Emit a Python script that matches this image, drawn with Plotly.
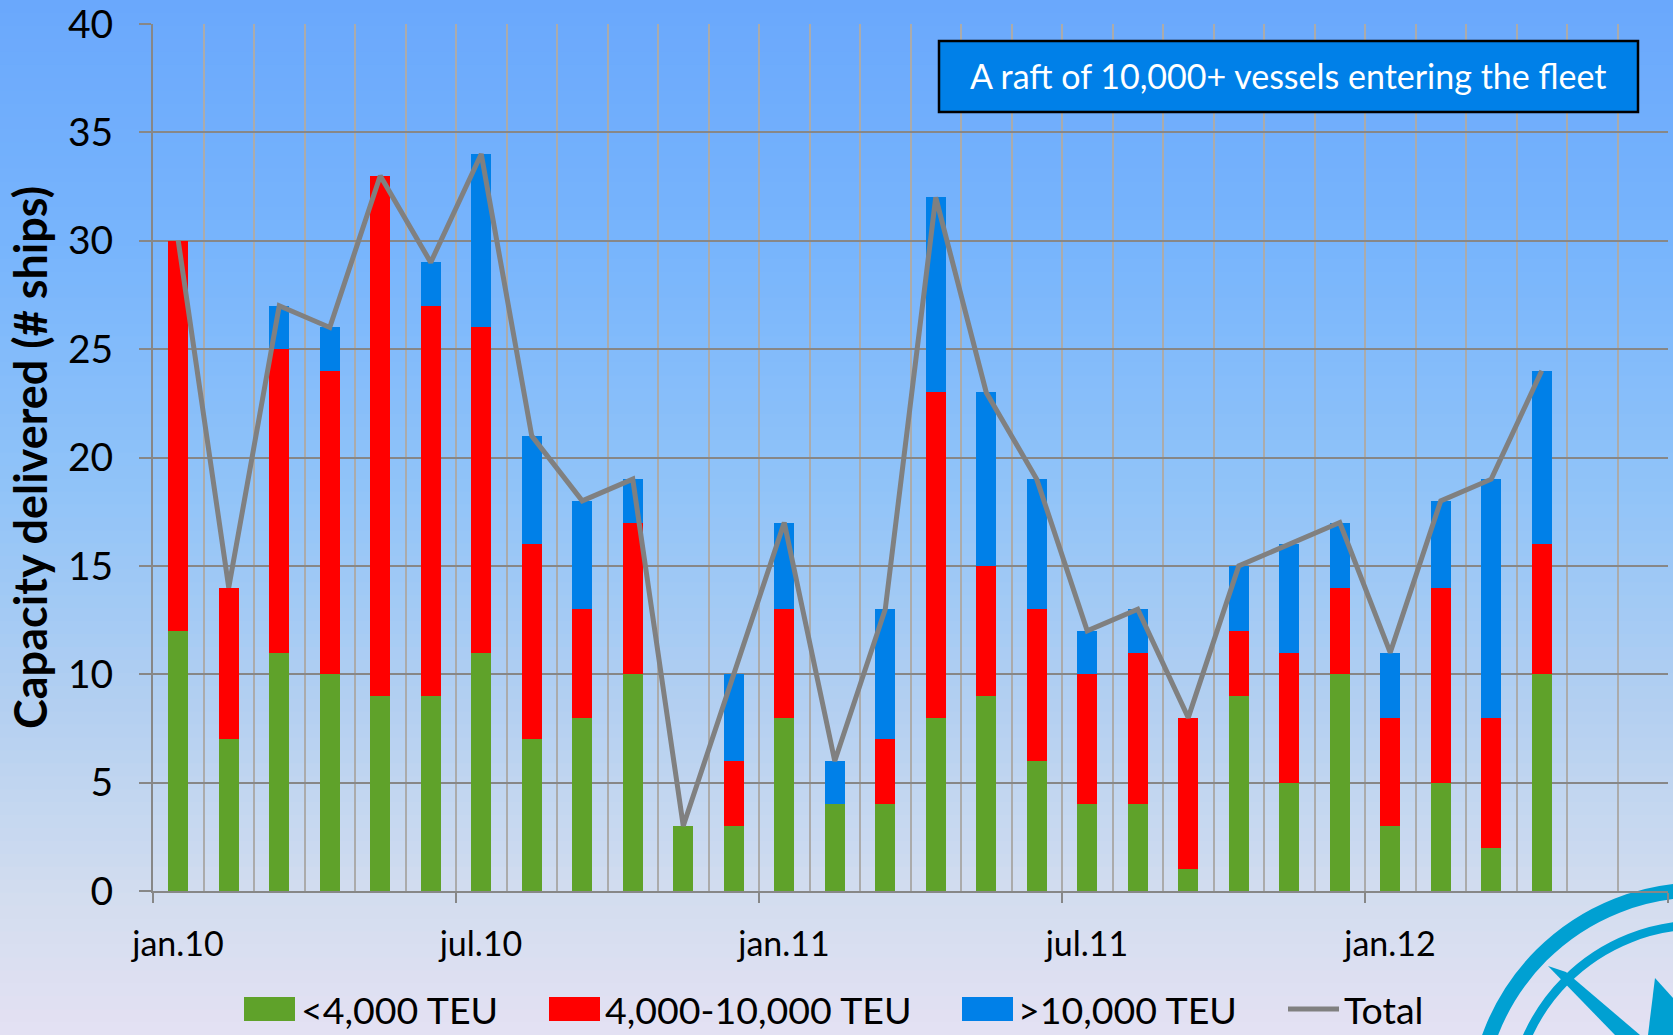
import plotly.graph_objects as go

# monthly deliveries, jan.10 .. apr.12 (number of ships)
months = ["jan.10", "feb.10", "mar.10", "apr.10", "mai.10", "jun.10", "jul.10", "aug.10",
          "sep.10", "okt.10", "nov.10", "des.10", "jan.11", "feb.11", "mar.11", "apr.11",
          "mai.11", "jun.11", "jul.11", "aug.11", "sep.11", "okt.11", "nov.11", "des.11",
          "jan.12", "feb.12", "mar.12", "apr.12"]
small = [12, 7, 11, 10, 9, 9, 11, 7, 8, 10, 3, 3, 8, 4, 4, 8, 9, 6, 4, 4, 1, 9, 5, 10, 3, 5, 2, 10]
mid = [18, 7, 14, 14, 24, 18, 15, 9, 5, 7, 0, 3, 5, 0, 3, 15, 6, 7, 6, 7, 7, 3, 6, 4, 5, 9, 6, 6]
large = [0, 0, 2, 2, 0, 2, 8, 5, 5, 2, 0, 4, 4, 2, 6, 9, 8, 6, 2, 2, 0, 3, 5, 3, 3, 4, 11, 8]
total = [30, 14, 27, 26, 33, 29, 34, 21, 18, 19, 3, 10, 17, 6, 13, 32, 23, 19, 12, 13, 8, 15,
         16, 17, 11, 18, 19, 24]
series_names = ["<4,000 TEU", "4,000-10,000 TEU", ">10,000 TEU", "Total"]
label_months = [0, 6, 12, 18, 24]
note = "A raft of 10,000+ vessels entering the fleet"

GREEN, RED, BLUE, GREY = "#5fa22a", "#ff0000", "#0080e8", "#808080"
FONT = "Lato, 'Open Sans', sans-serif"

W, H = 1673, 1035
L, R, T, B = 153, 1668, 24, 891


def px(x):
    return (x - L) / (R - L)


def py(y):
    return (B - y) / (B - T)


x = list(range(len(months)))

fig = go.Figure()
for vals, name, col in [(small, series_names[0], GREEN), (mid, series_names[1], RED),
                        (large, series_names[2], BLUE)]:
    fig.add_trace(go.Bar(x=x, y=vals, name=name, marker_color=col, marker_line_width=0,
                         customdata=months, hovertemplate="%{customdata}: %{y}<extra>" + name + "</extra>"))
fig.add_trace(go.Scatter(x=x, y=total, name=series_names[3], mode="lines",
                         line=dict(color=GREY, width=5), customdata=months,
                         hovertemplate="%{customdata}: %{y}<extra>Total</extra>"))

shapes = []
# page background gradient
stops = [(0, (106, 168, 252)), (250, (120, 181, 252)), (500, (146, 196, 248)),
         (700, (178, 207, 241)), (900, (211, 221, 239)), (1035, (228, 225, 243))]
n = 80
for i in range(n):
    y0 = H * i / n
    y1 = H * (i + 1) / n
    ym = (y0 + y1) / 2
    for (a, ca), (b, cb) in zip(stops[:-1], stops[1:]):
        if a <= ym <= b:
            t = (ym - a) / (b - a)
            c = tuple(int(round(ca[k] + (cb[k] - ca[k]) * t)) for k in range(3))
            break
    shapes.append(dict(type="rect", xref="paper", yref="paper", layer="below",
                       x0=px(-2), x1=px(W + 2), y0=py(y1 + 1), y1=py(y0 - 2 if i == 0 else y0),
                       line_width=0, fillcolor="rgb(%d,%d,%d)" % c))

# compass logo, bottom right
cx, cy = 1699, 1113
for rad, lw in [(223, 15), (188, 9)]:
    shapes.append(dict(type="circle", xref="paper", yref="paper", layer="below",
                       x0=px(cx - rad), x1=px(cx + rad), y0=py(cy + rad), y1=py(cy - rad),
                       line=dict(color="#00a0d2", width=lw), fillcolor="rgba(0,0,0,0)"))
shapes.append(dict(type="path", xref="paper", yref="paper", layer="below", line_width=0,
                   fillcolor="#00a0d2",
                   path="M %f %f L %f %f L %f %f L %f %f Z" % (px(1548), py(966), px(1566), py(972),
                                                                px(1640), py(1035), px(1615), py(1035))))
shapes.append(dict(type="path", xref="paper", yref="paper", layer="below", line_width=0,
                   fillcolor="#00a0d2",
                   path="M %f %f L %f %f L %f %f L %f %f Z" % (px(1655), py(978), px(1673), py(998),
                                                                px(1673), py(1035), px(1648), py(1035))))

# note box
shapes.append(dict(type="rect", xref="paper", yref="paper", x0=px(939), x1=px(1638),
                   y0=py(112), y1=py(41), fillcolor=BLUE, line=dict(color="black", width=2.5)))

annotations = [dict(xref="paper", yref="paper", x=px(1288), y=py(76), text=note, showarrow=False,
                    xanchor="center", yanchor="middle", font=dict(family=FONT, size=34, color="white"))]

# legend drawn by hand so the swatches match the original size
leg_y = 1009
leg = [(244, 299, GREEN, "bar"), (549, 603, RED, "bar"), (962, 1016, BLUE, "bar"), (1288, 1342, GREY, "line")]
for (sx, tx, col, kind), name in zip(leg, series_names):
    if kind == "bar":
        shapes.append(dict(type="rect", xref="paper", yref="paper", x0=px(sx), x1=px(sx + 51),
                           y0=py(leg_y + 12), y1=py(leg_y - 12), fillcolor=col, line_width=0))
    else:
        shapes.append(dict(type="line", xref="paper", yref="paper", x0=px(sx), x1=px(sx + 51),
                           y0=py(leg_y), y1=py(leg_y), line=dict(color=col, width=5)))
    annotations.append(dict(xref="paper", yref="paper", x=px(tx), y=py(leg_y), text=name,
                            showarrow=False, xanchor="left", yanchor="middle",
                            font=dict(family=FONT, size=37.5, color="black")))

tickvals = [i - 0.5 for i in label_months] + [len(months) + 1.5]
ticktext = [months[i] for i in label_months] + [""]

fig.update_layout(
    width=W, height=H,
    margin=dict(l=L, r=W - R, t=T, b=H - B, autoexpand=False),
    barmode="stack", bargap=0.6,
    showlegend=False,
    paper_bgcolor="#a8c8f0", plot_bgcolor="rgba(0,0,0,0)",
    font=dict(family=FONT, color="black"),
    shapes=shapes, annotations=annotations,
    xaxis=dict(range=[-0.5, len(months) + 1.5], tickmode="array", tickvals=tickvals, ticktext=ticktext,
               ticks="outside", ticklen=10, tickwidth=2, tickcolor="#878787",
               ticklabelshift=25, ticklabelstandoff=12, tickfont=dict(size=34), automargin=False,
               showgrid=True, gridcolor="#ababab", gridwidth=1.5,
               minor=dict(tick0=-0.5, dtick=1, showgrid=True, gridcolor="#ababab", gridwidth=1.5),
               showline=True, linecolor="#878787", linewidth=2, zeroline=False),
    yaxis=dict(range=[0, 40], dtick=5, ticks="outside", ticklen=12, tickwidth=1.5, tickcolor="#878787",
               ticklabelstandoff=18, tickfont=dict(size=39), ticklabeloverflow="allow", automargin=False,
               gridcolor="#878787", gridwidth=1.5, showline=True, linecolor="#878787", linewidth=2,
               zeroline=False,
               title=dict(text="<b>Capacity delivered (# ships)</b>", font=dict(size=45), standoff=6)),
)

fig.write_html("out.html", config={"displayModeBar": False},
               post_script="document.body.style.margin = '0px';")
